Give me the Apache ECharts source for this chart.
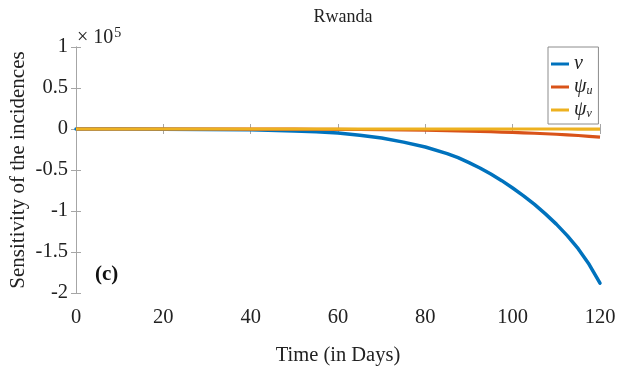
<!DOCTYPE html>
<html>
<head>
<meta charset="utf-8">
<script src="https://cdn.jsdelivr.net/npm/echarts@6/dist/echarts.min.js"></script>
<style>
  html, body { margin: 0; padding: 0; background: #fff; }
  #chart { width: 617px; height: 371px; }
</style>
</head>
<body>
<div id="chart"></div>
<script>
// Sensitivity of the incidences over time (values in units of 1e5)
const days = [0, 10, 20, 30, 40, 50, 55, 60, 65, 70, 75, 80, 85, 87.5, 90, 92.5, 95, 97.5, 100, 102.5, 105, 107.5, 110, 112.5, 115, 117.5, 120];
const vSens =    [0, 0, -0.002, -0.005, -0.01, -0.025, -0.035, -0.05, -0.075, -0.11, -0.16, -0.22, -0.30, -0.35, -0.41, -0.475, -0.55, -0.63, -0.72, -0.815, -0.92, -1.035, -1.16, -1.30, -1.46, -1.65, -1.88];
const psiUSens = [0, 0, 0, 0, -0.001, -0.002, -0.003, -0.004, -0.006, -0.008, -0.011, -0.015, -0.02, -0.023, -0.026, -0.029, -0.033, -0.037, -0.042, -0.047, -0.052, -0.058, -0.064, -0.071, -0.079, -0.089, -0.10];
const psiVSens = [0, 0, 0, 0, 0, 0, 0, 0, 0, 0, 0, 0, 0, 0, 0, 0, 0, 0, 0, 0, 0, 0, 0, 0, -0.001, -0.001, -0.002];
const xTicks = { min: 0, max: 120, step: 20 };
const yTicks = { min: -2, max: 1, step: 0.5 };

const serif = 'Liberation Serif, Times New Roman, serif';
const axisGray = '#a6a6a6';

const pairs = (ys) => days.map((d, i) => [d, ys[i]]);

const baseAxis = {
  axisLine: { show: true, lineStyle: { color: axisGray, width: 1 } },
  axisTick: { show: true, inside: true, length: 5, lineStyle: { color: axisGray } },
  splitLine: { show: false }
};

const chart = echarts.init(document.getElementById('chart'));
chart.setOption({
  animation: false,
  backgroundColor: '#fff',
  title: {
    text: 'Rwanda',
    left: 338,
    top: 3,
    textAlign: 'center',
    textStyle: { fontFamily: serif, fontSize: 18, fontWeight: 'normal', color: '#222' }
  },
  grid: { left: 76, right: 17, top: 47, bottom: 78, containLabel: false, outerBoundsMode: 'none' },
  xAxis: [
    Object.assign({}, baseAxis, {
      type: 'value', position: 'bottom',
      min: xTicks.min, max: xTicks.max, interval: xTicks.step,
      axisLabel: { fontFamily: serif, fontSize: 20.5, color: '#222', margin: 14 },
      name: 'Time (in Days)', nameLocation: 'middle', nameGap: 52, nameMoveOverlap: false,
      nameTextStyle: { fontFamily: serif, fontSize: 20.5, color: '#222' }
    }),
    Object.assign({}, baseAxis, {
      type: 'value', position: 'top',
      min: xTicks.min, max: xTicks.max, interval: xTicks.step,
      axisLabel: { show: false }
    })
  ],
  yAxis: [
    Object.assign({}, baseAxis, {
      type: 'value', position: 'left',
      min: yTicks.min, max: yTicks.max, interval: yTicks.step,
      axisLabel: { fontFamily: serif, fontSize: 20.5, color: '#222', margin: 8 },
      name: 'Sensitivity of the incidences', nameLocation: 'middle', nameGap: 47, nameMoveOverlap: false,
      nameTextStyle: { fontFamily: serif, fontSize: 21, color: '#222' }
    }),
    Object.assign({}, baseAxis, {
      type: 'value', position: 'right',
      min: yTicks.min, max: yTicks.max, interval: yTicks.step,
      axisLabel: { show: false }
    })
  ],
  legend: {
    orient: 'vertical',
    left: 548,
    top: 47,
    padding: [7, 6, 4, 3],
    itemGap: 3,
    itemWidth: 18,
    itemHeight: 3,
    itemTextGap: 5,
    icon: 'rect',
    backgroundColor: '#fff',
    borderColor: '#8c8c8c',
    borderWidth: 1,
    borderRadius: 0,
    data: ['v', 'psi_u', 'psi_v'],
    formatter: function (name) {
      if (name === 'v') return '{it|v}';
      if (name === 'psi_u') return '{it|ψ}{sub|u}';
      return '{it|ψ}{sub|v}';
    },
    textStyle: {
      color: '#222',
      rich: {
        it: { fontFamily: serif, fontStyle: 'italic', fontSize: 20, lineHeight: 20, color: '#222' },
        sub: { fontFamily: serif, fontStyle: 'italic', fontSize: 12, lineHeight: 20, verticalAlign: 'bottom', padding: [8, 0, 0, 0], color: '#222' }
      }
    }
  },
  graphic: [
    {
      type: 'text', left: 77, top: 26,
      style: {
        text: '{a|× 10}{b|5}',
        rich: {
          a: { fontFamily: serif, fontSize: 20, fill: '#222' },
          b: { fontFamily: serif, fontSize: 14, fill: '#222', verticalAlign: 'top', padding: [0, 0, 10, 1] }
        }
      }
    },
    {
      type: 'text', left: 95, top: 264,
      style: { text: '(c)', font: 'bold 21px ' + serif, fill: '#111' }
    }
  ],
  series: [
    {
      name: 'v', type: 'line', data: pairs(vSens),
      showSymbol: false, symbol: 'none', z: 2,
      lineStyle: { color: '#0072BD', width: 3.5, join: 'round', cap: 'round' }, itemStyle: { color: '#0072BD' }
    },
    {
      name: 'psi_u', type: 'line', data: pairs(psiUSens),
      showSymbol: false, symbol: 'none', z: 3,
      lineStyle: { color: '#D95319', width: 3.2, join: 'round' }, itemStyle: { color: '#D95319' }
    },
    {
      name: 'psi_v', type: 'line', data: pairs(psiVSens),
      showSymbol: false, symbol: 'none', z: 4,
      lineStyle: { color: '#EDB120', width: 3.2, join: 'round' }, itemStyle: { color: '#EDB120' }
    }
  ]
});
</script>
</body>
</html>
